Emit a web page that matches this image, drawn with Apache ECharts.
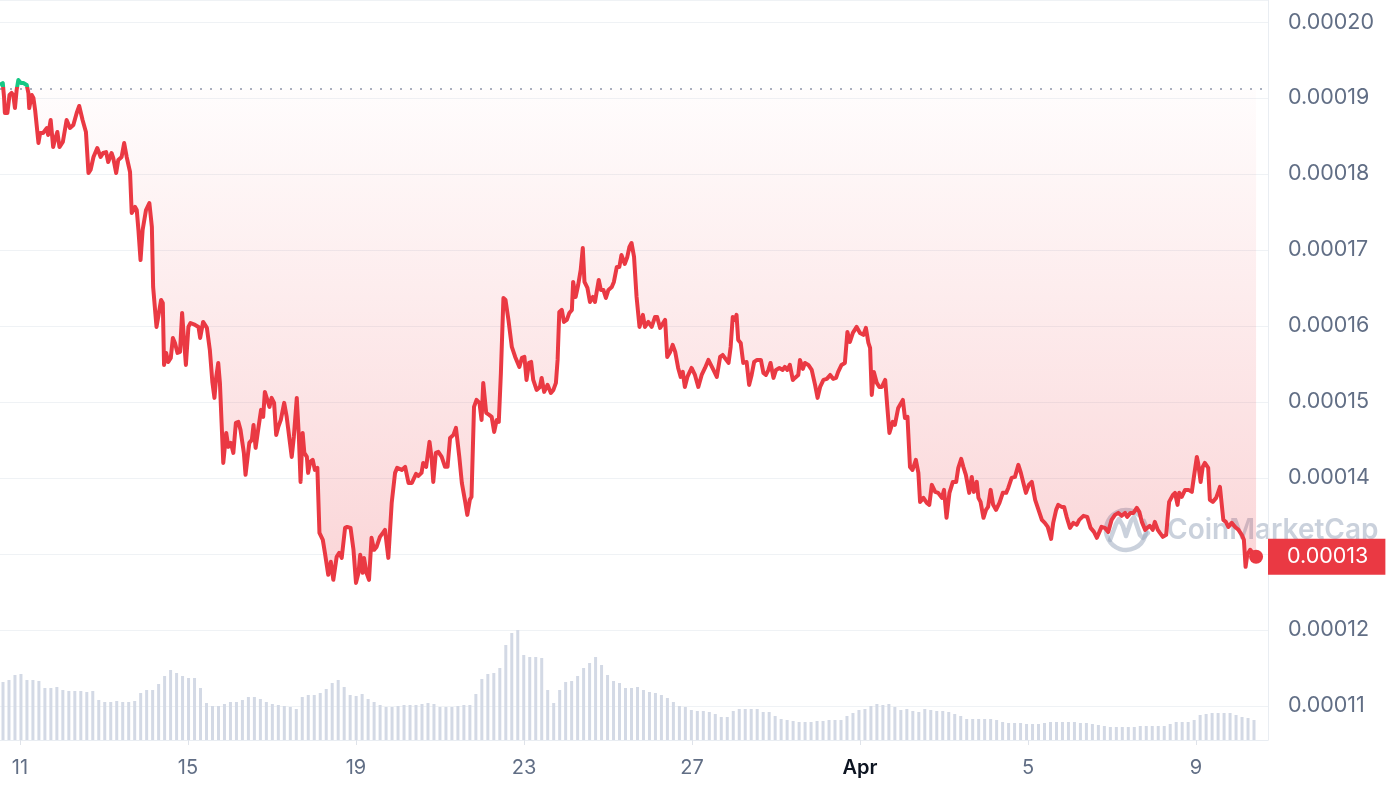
<!DOCTYPE html>
<html>
<head>
<meta charset="utf-8">
<script src="https://cdn.jsdelivr.net/npm/echarts@6/dist/echarts.min.js"></script>
<style>
html,body{margin:0;padding:0;background:#fff;}
#chart{width:1392px;height:792px;}
</style>
</head>
<body>
<div id="chart"></div>
<script>
// ---- DATA ----
// time in continuous days (Mar 11 00:00 = 11)
const times = [10.52,10.59,10.62,10.64,10.70,10.75,10.80,10.84,10.88,10.92,10.96,11.02,11.08,11.16,11.20,11.22,11.28,11.32,11.36,11.44,11.48,11.55,11.64,11.67,11.73,11.79,11.83,11.89,11.94,12.02,12.11,12.19,12.27,12.35,12.41,12.49,12.57,12.63,12.68,12.75,12.84,12.92,12.98,13.05,13.10,13.18,13.22,13.29,13.34,13.42,13.48,13.54,13.62,13.66,13.70,13.74,13.78,13.82,13.87,13.92,14.00,14.08,14.14,14.17,14.25,14.32,14.36,14.40,14.43,14.48,14.53,14.59,14.64,14.69,14.75,14.81,14.86,14.90,14.95,15.01,15.06,15.17,15.25,15.29,15.36,15.45,15.52,15.58,15.63,15.67,15.72,15.76,15.80,15.84,15.91,15.96,16.02,16.08,16.14,16.20,16.25,16.33,16.37,16.41,16.46,16.52,16.56,16.61,16.67,16.74,16.79,16.83,16.87,16.94,16.99,17.05,17.10,17.15,17.21,17.29,17.35,17.41,17.47,17.52,17.59,17.64,17.68,17.73,17.77,17.83,17.86,17.91,17.97,18.02,18.08,18.13,18.21,18.26,18.34,18.40,18.46,18.54,18.60,18.66,18.74,18.79,18.87,18.94,19.00,19.06,19.10,19.16,19.19,19.25,19.31,19.37,19.43,19.49,19.57,19.64,19.69,19.77,19.85,19.93,19.98,20.09,20.17,20.25,20.33,20.43,20.48,20.56,20.60,20.67,20.75,20.80,20.84,20.90,20.96,21.04,21.12,21.18,21.24,21.32,21.38,21.46,21.52,21.60,21.65,21.71,21.75,21.81,21.87,21.94,21.99,22.03,22.10,22.17,22.23,22.29,22.35,22.40,22.45,22.51,22.56,22.63,22.67,22.71,22.79,22.89,22.95,23.01,23.06,23.12,23.17,23.22,23.30,23.38,23.42,23.48,23.56,23.64,23.70,23.76,23.80,23.84,23.90,23.95,24.02,24.08,24.14,24.17,24.23,24.29,24.35,24.40,24.44,24.51,24.57,24.64,24.69,24.73,24.78,24.83,24.89,24.95,25.01,25.09,25.14,25.21,25.27,25.32,25.40,25.46,25.51,25.56,25.62,25.68,25.75,25.83,25.88,25.96,26.04,26.12,26.17,26.24,26.36,26.41,26.48,26.54,26.60,26.67,26.73,26.78,26.83,26.89,26.99,27.07,27.15,27.23,27.31,27.39,27.51,27.59,27.67,27.73,27.87,27.92,27.97,28.02,28.06,28.10,28.16,28.22,28.30,28.36,28.42,28.48,28.55,28.64,28.70,28.76,28.82,28.87,28.94,29.00,29.08,29.16,29.21,29.27,29.33,29.40,29.45,29.53,29.57,29.64,29.69,29.77,29.85,29.93,29.99,30.05,30.13,30.21,30.29,30.36,30.43,30.48,30.56,30.64,30.70,30.76,30.83,30.92,31.00,31.08,31.14,31.20,31.24,31.28,31.33,31.40,31.46,31.52,31.60,31.64,31.65,31.70,31.78,31.83,31.91,32.02,32.07,32.13,32.19,32.25,32.33,32.39,32.43,32.51,32.59,32.65,32.71,32.79,32.86,32.95,33.00,33.06,33.13,33.21,33.29,33.34,33.41,33.46,33.52,33.60,33.66,33.71,33.78,33.82,33.87,33.94,34.00,34.05,34.11,34.17,34.24,34.32,34.40,34.48,34.53,34.61,34.69,34.77,34.83,34.89,34.95,35.02,35.09,35.17,35.25,35.33,35.40,35.47,35.55,35.60,35.67,35.72,35.80,35.86,35.92,36.00,36.08,36.16,36.22,36.32,36.41,36.49,36.57,36.64,36.70,36.75,36.83,36.91,36.99,37.07,37.15,37.23,37.31,37.36,37.44,37.51,37.59,37.65,37.71,37.79,37.84,37.90,37.97,38.02,38.09,38.14,38.21,38.29,38.32,38.36,38.45,38.50,38.56,38.60,38.66,38.74,38.82,38.90,38.95,39.02,39.05,39.11,39.16,39.21,39.29,39.33,39.40,39.48,39.53,39.57,39.65,39.71,39.77,39.85,39.93,40.01,40.09,40.14,40.18,40.22,40.29,40.35,40.43];
const prices = [0.00019171,0.00019197,0.00019013,0.00018803,0.00018803,0.00019039,0.00019066,0.00019039,0.00018868,0.00019105,0.00019237,0.00019197,0.00019197,0.00019171,0.00019066,0.00018868,0.00019039,0.00019000,0.00018842,0.00018408,0.00018539,0.00018539,0.00018605,0.00018513,0.00018711,0.00018355,0.00018447,0.00018553,0.00018355,0.00018421,0.00018711,0.00018605,0.00018645,0.00018803,0.00018895,0.00018711,0.00018553,0.00018013,0.00018053,0.00018224,0.00018342,0.00018224,0.00018276,0.00018289,0.00018158,0.00018276,0.00018211,0.00018013,0.00018184,0.00018224,0.00018408,0.00018224,0.00018026,0.00017487,0.00017461,0.00017566,0.00017526,0.00017263,0.00016868,0.00017263,0.00017526,0.00017618,0.00017303,0.00016513,0.00015987,0.00016211,0.00016342,0.00016303,0.00015487,0.00015645,0.00015526,0.00015579,0.00015842,0.00015776,0.00015645,0.00015658,0.00016171,0.00015855,0.00015487,0.00015987,0.00016039,0.00016013,0.00015987,0.00015842,0.00016053,0.00015974,0.00015684,0.00015263,0.00015053,0.00015316,0.00015513,0.00015250,0.00014724,0.00014197,0.00014592,0.00014408,0.00014461,0.00014329,0.00014724,0.00014737,0.00014632,0.00014329,0.00014040,0.00014040,0.00014461,0.00014500,0.00014697,0.00014395,0.00014632,0.00014895,0.00014803,0.00015132,0.00015118,0.00014934,0.00015053,0.00014987,0.00014566,0.00014671,0.00014763,0.00014987,0.00014803,0.00014539,0.00014276,0.00014539,0.00015053,0.00014539,0.00013947,0.00014592,0.00014329,0.00014276,0.00014066,0.00014211,0.00014237,0.00014105,0.00014132,0.00013276,0.00013184,0.00013013,0.00012724,0.00012895,0.00012658,0.00012961,0.00013013,0.00012947,0.00013342,0.00013355,0.00013342,0.00013053,0.00012618,0.00012750,0.00012987,0.00012750,0.00012947,0.00012750,0.00012658,0.00013211,0.00013053,0.00013092,0.00013224,0.00013276,0.00013316,0.00012947,0.00013671,0.00014066,0.00014132,0.00014105,0.00014145,0.00013934,0.00013934,0.00014053,0.00014026,0.00014066,0.00014197,0.00014145,0.00014474,0.00014263,0.00013947,0.00014329,0.00014342,0.00014276,0.00014145,0.00014145,0.00014526,0.00014566,0.00014658,0.00014276,0.00013934,0.00013684,0.00013513,0.00013711,0.00013750,0.00014934,0.00015026,0.00014987,0.00014763,0.00015250,0.00014855,0.00014829,0.00014803,0.00014605,0.00014763,0.00014737,0.00015382,0.00016368,0.00016342,0.00016079,0.00016079,0.00015724,0.00015592,0.00015461,0.00015579,0.00015592,0.00015289,0.00015513,0.00015526,0.00015289,0.00015158,0.00015197,0.00015316,0.00015132,0.00015224,0.00015118,0.00015158,0.00015250,0.00015553,0.00016184,0.00016211,0.00016053,0.00016079,0.00016171,0.00016211,0.00016579,0.00016382,0.00016539,0.00016737,0.00017026,0.00016579,0.00016500,0.00016316,0.00016382,0.00016316,0.00016447,0.00016605,0.00016474,0.00016474,0.00016368,0.00016474,0.00016513,0.00016579,0.00016776,0.00016776,0.00016934,0.00016816,0.00016908,0.00017039,0.00017092,0.00016908,0.00016382,0.00015987,0.00016145,0.00015987,0.00016053,0.00015987,0.00016118,0.00016118,0.00015974,0.00016079,0.00015592,0.00015658,0.00015750,0.00015658,0.00015447,0.00015329,0.00015395,0.00015197,0.00015329,0.00015447,0.00015355,0.00015197,0.00015355,0.00015447,0.00015553,0.00015421,0.00015329,0.00015592,0.00015618,0.00015513,0.00015724,0.00016118,0.00016079,0.00016145,0.00015816,0.00015776,0.00015513,0.00015526,0.00015224,0.00015355,0.00015526,0.00015553,0.00015553,0.00015382,0.00015355,0.00015421,0.00015513,0.00015316,0.00015421,0.00015447,0.00015421,0.00015461,0.00015421,0.00015487,0.00015289,0.00015316,0.00015355,0.00015553,0.00015434,0.00015513,0.00015487,0.00015421,0.00015224,0.00015053,0.00015197,0.00015289,0.00015303,0.00015355,0.00015303,0.00015316,0.00015395,0.00015487,0.00015513,0.00015921,0.00015789,0.00015908,0.00015987,0.00015908,0.00015882,0.00015974,0.00015776,0.00015711,0.00015092,0.00015395,0.00015250,0.00015197,0.00015197,0.00015289,0.00015263,0.00014934,0.00014592,0.00014737,0.00014697,0.00014921,0.00015026,0.00014789,0.00014803,0.00014145,0.00014105,0.00014237,0.00014066,0.00013684,0.00013737,0.00013671,0.00013645,0.00013908,0.00013816,0.00013803,0.00013737,0.00013842,0.00013474,0.00013803,0.00013947,0.00013947,0.00014132,0.00014250,0.00014145,0.00014040,0.00013803,0.00014013,0.00013816,0.00013947,0.00013737,0.00013684,0.00013474,0.00013579,0.00013618,0.00013842,0.00013645,0.00013579,0.00013671,0.00013803,0.00013803,0.00013868,0.00014000,0.00014013,0.00014171,0.00014066,0.00013934,0.00013803,0.00013908,0.00013947,0.00013711,0.00013579,0.00013447,0.00013408,0.00013355,0.00013197,0.00013408,0.00013579,0.00013645,0.00013618,0.00013618,0.00013487,0.00013342,0.00013408,0.00013382,0.00013447,0.00013500,0.00013487,0.00013342,0.00013289,0.00013211,0.00013289,0.00013355,0.00013342,0.00013289,0.00013447,0.00013513,0.00013539,0.00013500,0.00013539,0.00013487,0.00013539,0.00013539,0.00013605,0.00013553,0.00013421,0.00013316,0.00013342,0.00013368,0.00013316,0.00013421,0.00013316,0.00013276,0.00013224,0.00013250,0.00013447,0.00013684,0.00013776,0.00013803,0.00013645,0.00013803,0.00013750,0.00013842,0.00013842,0.00013816,0.00014013,0.00014276,0.00014197,0.00013947,0.00014145,0.00014197,0.00014132,0.00013711,0.00013684,0.00013737,0.00013816,0.00013882,0.00013447,0.00013421,0.00013355,0.00013408,0.00013355,0.00013316,0.00013250,0.00013184,0.00012829,0.00012987,0.00013053,0.00013013,0.00012961];
// 24h volume (millions, estimated), evenly spaced bars
const volumes = [5.8,6.0,6.5,6.6,6.0,6.0,5.9,5.2,5.2,5.3,5.0,4.9,4.9,4.9,4.8,4.9,4.0,3.8,3.8,3.9,3.8,3.8,3.9,4.7,5.0,5.0,5.6,6.4,7.0,6.7,6.4,6.2,6.2,5.2,3.7,3.4,3.4,3.6,3.8,3.8,4.0,4.3,4.3,4.1,3.8,3.6,3.5,3.4,3.3,3.1,4.3,4.5,4.5,4.7,5.1,5.7,6.0,5.3,4.5,4.4,4.6,4.1,3.8,3.5,3.3,3.3,3.4,3.5,3.5,3.5,3.6,3.7,3.6,3.3,3.3,3.3,3.4,3.5,3.5,4.6,6.1,6.6,6.7,7.2,9.5,10.7,11.0,8.5,8.3,8.3,8.2,5.0,3.7,5.0,5.8,5.9,6.4,7.2,7.7,8.3,7.5,6.5,5.9,5.7,5.2,5.2,5.3,5.0,4.8,4.7,4.5,4.2,3.8,3.4,3.3,3.0,2.9,2.9,2.8,2.6,2.3,2.3,2.9,3.1,3.1,3.1,3.1,2.8,2.8,2.4,2.1,2.0,1.9,1.8,1.8,1.8,1.9,1.9,2.0,2.0,2.0,2.4,2.7,3.0,3.1,3.4,3.6,3.5,3.6,3.3,3.0,3.1,2.9,2.8,3.1,3.0,2.9,2.9,2.8,2.6,2.4,2.1,2.1,2.1,2.1,2.1,2.0,1.8,1.7,1.7,1.7,1.6,1.6,1.6,1.7,1.8,1.8,1.8,1.8,1.8,1.7,1.7,1.6,1.5,1.4,1.3,1.3,1.3,1.3,1.3,1.4,1.4,1.4,1.4,1.4,1.6,1.8,1.8,1.8,2.0,2.5,2.6,2.7,2.7,2.7,2.7,2.5,2.3,2.2,2.0];
const tickDays = [11, 15, 19, 23, 27, 31, 35, 39];
const tickLabels = ['11', '15', '19', '23', '27', 'Apr', '5', '9'];
const priceTicks = [0.00011, 0.00012, 0.00013, 0.00014, 0.00015, 0.00016, 0.00017, 0.00018, 0.00019, 0.00020];
const openPrice = 0.00019118;

// ---- CHART ----
const RED = '#ea3943', GREEN = '#16c784';
const AXIS_TXT = '#616e85', GRID = '#eff2f5';
const X_MIN = 10.524, X_MAX = 40.714;
const lastTime = times[times.length - 1];
const lastPrice = prices[prices.length - 1];
const maxP = Math.max.apply(null, prices), minP = Math.min.apply(null, prices);
const splitFrac = (maxP - openPrice) / (maxP - minP);
const chart = echarts.init(document.getElementById('chart'), null, {renderer: 'canvas'});

const lineColor = new echarts.graphic.LinearGradient(0, 0, 0, 1, [
  {offset: 0, color: GREEN}, {offset: splitFrac, color: GREEN},
  {offset: splitFrac, color: RED}, {offset: 1, color: RED}
]);

const wmColor = 'rgba(150,163,186,0.5)';
const option = {
  animation: false,
  backgroundColor: '#ffffff',
  textStyle: {fontFamily: 'Inter'},
  grid: [
    {left: 0, right: 124, top: 0, bottom: 52},
    {left: -3, width: 1260, top: 620, bottom: 52}
  ],
  xAxis: [
    {
      type: 'value', gridIndex: 0, min: X_MIN, max: X_MAX,
      axisLine: {show: true, lineStyle: {color: '#e9edf2', width: 1}},
      axisTick: {show: true, customValues: tickDays, length: 5, lineStyle: {color: '#dfe3ea'}},
      splitLine: {show: false},
      axisLabel: {
        customValues: tickDays, margin: 18, fontSize: 20, color: AXIS_TXT, fontFamily: 'Inter',
        formatter: function (v) {
          const i = tickDays.indexOf(Math.round(v));
          if (i < 0) return '';
          const s = tickLabels[i];
          return /[A-Za-z]/.test(s) ? '{m|' + s + '}' : s;
        },
        rich: {m: {fontSize: 20, fontWeight: 600, color: '#0d1421', fontFamily: 'Inter'}}
      }
    },
    {
      type: 'category', gridIndex: 1, data: volumes.map((_, i) => i), boundaryGap: true,
      show: false
    }
  ],
  yAxis: [
    {
      type: 'value', gridIndex: 0, position: 'right',
      min: 0.0001055, max: 0.0002029, splitNumber: 10,
      axisLine: {show: true, lineStyle: {color: '#e9edf2', width: 1}},
      axisTick: {show: false},
      splitLine: {show: true, lineStyle: {color: GRID, width: 1}},
      axisLabel: {
        customValues: priceTicks, margin: 20, fontSize: 21.5, color: AXIS_TXT, fontFamily: 'Inter',
        formatter: v => v.toFixed(5)
      }
    },
    {type: 'value', gridIndex: 1, min: 0, max: 12, show: false, splitLine: {show: false}}
  ],
  series: [
    {
      // opening-price reference (dotted)
      type: 'line', xAxisIndex: 0, yAxisIndex: 0, z: 2, silent: true,
      data: [[X_MIN, openPrice], [X_MAX, openPrice]],
      showSymbol: false, symbol: 'none',
      lineStyle: {type: [2, 8], color: '#a9b0bf', width: 2}
    },
    {
      type: 'line', xAxisIndex: 0, yAxisIndex: 0, z: 3,
      data: times.map((t, i) => [t, prices[i]]),
      showSymbol: false, symbol: 'none',
      lineStyle: {width: 4, join: 'round', color: lineColor},
      areaStyle: {
        origin: openPrice,
        color: new echarts.graphic.LinearGradient(0, 0, 0, 1, [
          {offset: 0, color: 'rgba(234,57,67,0.01)'},
          {offset: 1, color: 'rgba(234,57,67,0.30)'}
        ])
      }
    },
    {
      // last-price dot
      type: 'scatter', xAxisIndex: 0, yAxisIndex: 0, z: 6,
      data: [[lastTime, lastPrice]], symbolSize: 14,
      itemStyle: {color: RED, opacity: 1}, silent: true
    },
    {
      // last-price tag on the price axis
      type: 'scatter', xAxisIndex: 0, yAxisIndex: 0, z: 8, clip: false, silent: true,
      data: [[X_MAX, lastPrice]], symbolSize: 0,
      itemStyle: {color: RED, opacity: 1},
      label: {
        show: true, position: 'right', distance: 0, opacity: 1,
        formatter: () => lastPrice.toFixed(5),
        backgroundColor: RED, color: '#ffffff', fontSize: 21.5, fontFamily: 'Inter',
        lineHeight: 20, padding: [8, 17, 8, 19]
      }
    },
    {
      type: 'bar', xAxisIndex: 1, yAxisIndex: 1, z: 1,
      data: volumes, barWidth: 3, silent: true,
      itemStyle: {color: '#d3d9e5'}
    }
  ],
  graphic: [
    {
      type: 'group', z: 100, silent: true,
      children: [
        {type: 'arc', shape: {cx: 1126, cy: 530, r: 20, startAngle: -Math.PI * 0.15, endAngle: Math.PI * 1.75},
         style: {stroke: wmColor, lineWidth: 4.5, fill: null, lineCap: 'round'}},
        {type: 'polyline', shape: {points: [[1110, 540], [1116, 524], [1119, 519], [1123, 526], [1126, 536], [1131, 521], [1134, 517], [1137, 526], [1140, 535], [1143, 538], [1148, 533]]},
         style: {stroke: wmColor, lineWidth: 4.5, fill: null, lineJoin: 'round', lineCap: 'round'}},
        {type: 'text', x: 1167, y: 531,
         style: {text: 'CoinMarketCap', font: '600 28px Inter', fill: wmColor, textVerticalAlign: 'middle', verticalAlign: 'middle'}}
      ]
    }
  ]
};
chart.setOption(option);
</script>
</body>
</html>
